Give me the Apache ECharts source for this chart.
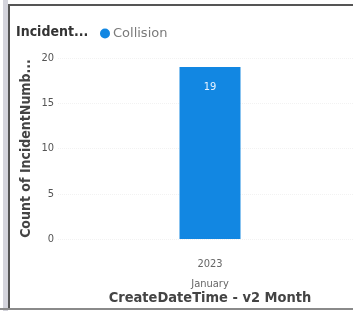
<!DOCTYPE html>
<html>
<head>
<meta charset="utf-8">
<script src="https://cdn.jsdelivr.net/npm/echarts@6/dist/echarts.min.js"></script>
<style>
  html, body { margin: 0; padding: 0; background: #fff; }
  #wrap { position: relative; width: 353px; height: 311px; overflow: hidden; }
  #main { position: absolute; left: 0; top: 0; width: 353px; height: 311px; }
  .edge { position: absolute; }
</style>
</head>
<body>
<div id="wrap">
  <div id="main"></div>
  <!-- frame of the screenshot -->
  <div class="edge" style="left:3px;top:0;width:5px;height:311px;background:#d4d4dc"></div>
  <div class="edge" style="left:8px;top:4px;width:2px;height:305px;background:#555"></div>
  <div class="edge" style="left:8px;top:4px;width:345px;height:2px;background:#555"></div>
  <div class="edge" style="left:0;top:308px;width:353px;height:2px;background:#8a8a8a"></div>
</div>
<script>
// data
const months = ['2023\nJanuary'];
const collision = [19];
const yTicks = { min: 0, max: 20, interval: 5 };

const legendTitle = 'Incident...';
const seriesName = 'Collision';
const yName = 'Count of IncidentNumb...';
const xName = 'CreateDateTime - v2 Month';

const font = '"DejaVu Sans Condensed", "DejaVu Sans", sans-serif';
const barColor = '#1287e2';

const chart = echarts.init(document.getElementById('main'), null, { renderer: 'canvas' });

chart.setOption({
    animation: false,
    textStyle: { fontFamily: font },
    title: {
        text: legendTitle,
        left: 11,
        top: 20,
        textStyle: { fontSize: 14, fontWeight: 'bold', color: '#333', fontFamily: font }
    },
    legend: {
        data: [seriesName],
        left: 95,
        top: 22,
        icon: 'circle',
        itemWidth: 10,
        itemHeight: 10,
        itemGap: 4,
        textStyle: { fontSize: 13, color: '#7a7a7a', padding: [0, 0, 0, -2], fontFamily: '"DejaVu Sans", sans-serif' }
    },
    grid: {
        left: 58,
        top: 58,
        width: 304,
        height: 181,
        containLabel: false,
        outerBoundsMode: 'none'
    },
    xAxis: {
        type: 'category',
        data: months,
        axisLine: { show: false },
        axisTick: { show: false },
        axisLabel: {
            margin: 15,
            fontSize: 11,
            lineHeight: 20,
            color: '#666',
            fontFamily: font
        },
        name: xName,
        nameLocation: 'middle',
        nameGap: 52,
        nameMoveOverlap: false,
        nameTextStyle: { fontSize: 14.5, fontWeight: 'bold', color: '#444', fontFamily: font }
    },
    yAxis: {
        type: 'value',
        min: yTicks.min,
        max: yTicks.max,
        interval: yTicks.interval,
        axisLine: { show: false },
        axisTick: { show: false },
        axisLabel: { fontSize: 11, color: '#555', margin: 4, fontFamily: font },
        splitLine: { show: true, lineStyle: { color: '#f2f2f2', type: 'dotted' } },
        name: yName,
        nameLocation: 'middle',
        nameRotate: 90,
        nameGap: 25,
        nameMoveOverlap: false,
        nameTextStyle: { fontSize: 14, fontWeight: 'bold', color: '#444', fontFamily: font }
    },
    series: [{
        name: seriesName,
        type: 'bar',
        data: collision,
        barWidth: 61,
        itemStyle: { color: barColor },
        label: {
            show: true,
            position: 'insideTop',
            distance: 15,
            color: '#e8f3ff',
            fontSize: 11,
            fontFamily: font
        }
    }]
});
</script>
</body>
</html>
